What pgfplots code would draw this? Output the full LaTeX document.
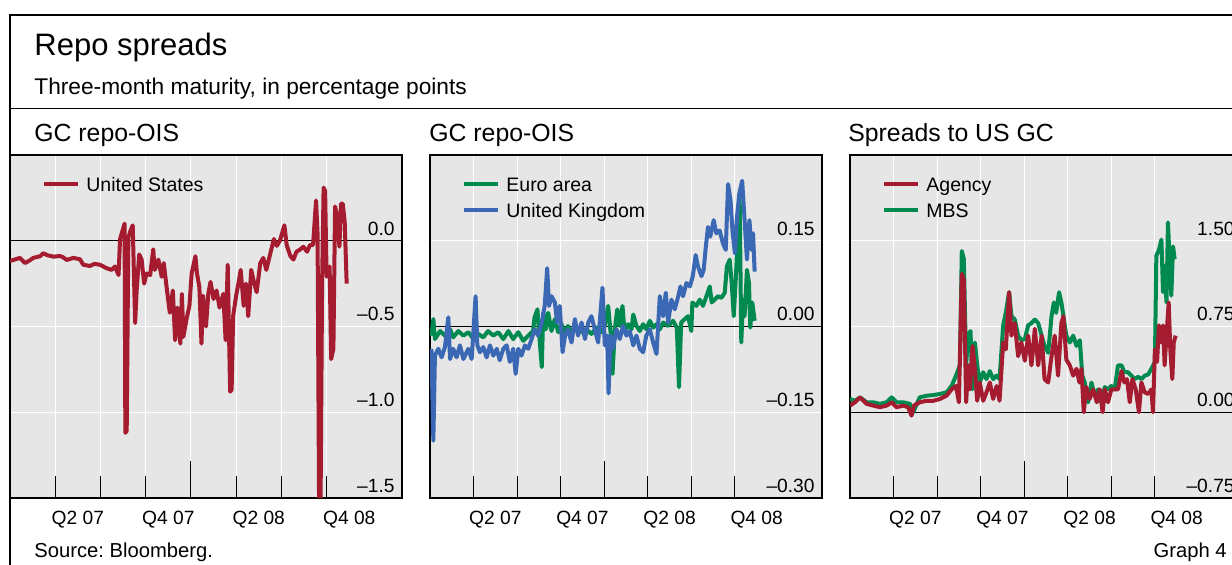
\documentclass[border=0pt]{standalone}
\usepackage{fontspec}
\setmainfont{Liberation Sans}
\usepackage{pgfplots}
\pgfplotsset{compat=1.18}
\definecolor{bisred}{HTML}{A51C30}
\definecolor{bisgreen}{HTML}{008A50}
\definecolor{bisblue}{HTML}{3A68B4}
\definecolor{bggray}{HTML}{E6E6E6}
\frenchspacing

\pgfplotsset{
  panel/.style={
    scale only axis, width=196pt, height=171.5pt, anchor=south west,
    axis background/.style={fill=bggray},
    axis line style={black, line width=0.75pt},
    xmin=0,
    xtick={4.5,10.5,16.5,22.5},
    xticklabels={Q2 07,Q4 07,Q2 08,Q4 08},
    minor xtick={3,6,...,21},
    xminorgrids=true, ymajorgrids=true,
    minor grid style={white, line width=0.5pt},
    major grid style={white, line width=0.5pt},
    major tick length=0pt, minor tick length=11pt,
    tick align=inside, xtick pos=left,
    minor tick style={black, line width=0.5pt},
    yticklabel pos=right,
    ticklabel style={font=\fontsize{9.6}{11}\selectfont},
    yticklabel style={anchor=base east, inner sep=0pt, xshift=-3.5pt, yshift=2.75pt},
    xticklabel style={anchor=base, inner sep=0pt, yshift=-13.2pt},
    legend style={at={(0,1)}, anchor=north west, xshift=16pt, yshift=-10.85pt,
      draw=none, fill=none, inner sep=0pt, row sep=4pt, column sep=3pt,
      font=\fontsize{9.75}{11}\selectfont,
      nodes={inner sep=0pt, text height=7pt, text depth=2pt, anchor=base west}},
    legend cell align=left,
    legend image code/.code={\draw[##1, line width=2pt] (0pt,3.4pt) -- (17pt,3.4pt);},
    every axis plot/.append style={line width=2pt, line join=round},
  }
}

\begin{document}
\begin{tikzpicture}
\useasboundingbox (0,0) rectangle (616pt,282.5pt);
\clip (0,0) rectangle (616pt,282.5pt);

% frame and header
\draw[black, line width=0.75pt] (5pt,0) -- (5pt,275pt) -- (620pt,275pt);
\draw[black, line width=0.75pt] (5pt,228.25pt) -- (620pt,228.25pt);
\node[anchor=base west, inner sep=0pt, font=\fontsize{15.5}{17}\selectfont] at (17pt,254.5pt) {Repo spreads};
\node[anchor=base west, inner sep=0pt, font=\fontsize{11.35}{13}\selectfont] at (17pt,235pt) {Three-month maturity, in percentage points};
\node[anchor=base west, inner sep=0pt, font=\fontsize{12.4}{14}\selectfont] at (17pt,211.5pt) {GC repo-OIS};
\node[anchor=base west, inner sep=0pt, font=\fontsize{12.4}{14}\selectfont] at (214.5pt,211.5pt) {GC repo-OIS};
\node[anchor=base west, inner sep=0pt, font=\fontsize{12.4}{14}\selectfont] at (424pt,211.5pt) {Spreads to US GC};
\node[anchor=base west, inner sep=0pt, font=\fontsize{10.1}{12}\selectfont] at (17pt,3.5pt) {Source: Bloomberg.};
\node[anchor=base east, inner sep=0pt, font=\fontsize{10.1}{12}\selectfont] at (613.5pt,3.5pt) {Graph 4};

% panel 1: US
\begin{axis}[panel, at={(5pt,33.5pt)}, xmax=26,
  ymin=-1.5, ymax=0.5, ytick={-1.5,-1,-0.5,0},
  yticklabels={–1.5,–1.0,–0.5,0.0}]
\draw[black, line width=0.6pt] (axis cs:0,0) -- (axis cs:26,0);
\draw[black, line width=0.5pt] (axis cs:12,-1.5) -- ++(0pt,18.5pt);
\addplot[bisred] coordinates {
(0,-0.118) (0.3,-0.11) (0.66,-0.10) (1.0,-0.13) (1.3,-0.115) (1.55,-0.10) (2.0,-0.09) (2.2,-0.073)
(2.5,-0.085) (2.9,-0.093) (3.3,-0.089) (3.5,-0.095) (3.76,-0.112) (4.2,-0.10) (4.64,-0.108)
(4.86,-0.14) (5.3,-0.147) (5.6,-0.135) (5.97,-0.14) (6.4,-0.16) (6.74,-0.17) (6.96,-0.15)
(7.2,-0.2) (7.3,0.01) (7.5,0.07) (7.6,0.10) (7.65,-1.12) (7.74,-1.11) (7.85,0.02) (8.0,0.06)
(8.14,0.09) (8.3,-0.48) (8.4,-0.29) (8.57,-0.08) (8.73,-0.11) (8.9,-0.25) (9.06,-0.19)
(9.3,-0.2) (9.5,-0.05) (9.6,-0.17) (9.84,-0.11) (10.06,-0.21) (10.2,-0.13) (10.4,-0.28)
(10.6,-0.42) (10.8,-0.29) (10.95,-0.58) (11.1,-0.39) (11.3,-0.6) (11.4,-0.31) (11.5,-0.56)
(11.7,-0.46) (11.9,-0.38) (12.05,-0.19) (12.3,-0.09) (12.4,-0.19) (12.56,-0.27) (12.7,-0.6)
(12.8,-0.32) (13.0,-0.5) (13.15,-0.31) (13.3,-0.24) (13.5,-0.34) (13.7,-0.29) (13.9,-0.39)
(14.15,-0.31) (14.3,-0.58) (14.44,-0.14) (14.6,-0.88) (14.7,-0.87) (14.8,-0.44) (15.0,-0.32)
(15.15,-0.25) (15.3,-0.17) (15.5,-0.38) (15.65,-0.25) (15.8,-0.44) (16.0,-0.17) (16.15,-0.23)
(16.36,-0.30) (16.6,-0.13) (16.8,-0.10) (17.0,-0.17) (17.25,-0.08) (17.5,0.01) (17.7,-0.03)
(17.9,0.0) (18.2,0.09) (18.35,-0.025) (18.6,-0.09) (18.8,-0.11) (19.0,-0.064) (19.2,-0.054)
(19.46,-0.035) (19.7,-0.064) (19.9,-0.025) (20.1,-0.025) (20.3,0.235) (20.4,0.04) (20.5,-1.55)
(20.6,-1.52) (20.7,-0.25) (20.8,0.31) (20.9,0.29) (21.0,-0.21) (21.2,-0.15) (21.3,-0.69)
(21.45,-0.63) (21.56,0.20) (21.7,0.14) (21.85,-0.035) (21.95,0.216) (22.07,0.216) (22.2,0.11)
(22.33,-0.25)
};
\addlegendentry{United States}
\end{axis}

% panel 2: euro area and UK
\begin{axis}[panel, at={(215pt,33.5pt)}, xmax=27,
  ymin=-0.3, ymax=0.3, ytick={-0.3,-0.15,0,0.15},
  yticklabels={–0.30,–0.15,0.00,0.15}]
\draw[black, line width=0.6pt] (axis cs:0,0) -- (axis cs:27,0);
\draw[black, line width=0.5pt] (axis cs:12,-0.3) -- ++(0pt,18.5pt);
\addplot[bisgreen] coordinates {
(0.1,-0.016) (0.23,0.013) (0.34,-0.022) (0.7,-0.008) (1.03,-0.016) (1.38,-0.005) (1.6,-0.019)
(1.95,-0.008) (2.3,-0.016) (2.64,-0.01) (3.0,-0.022) (3.33,-0.013) (3.67,-0.019) (4.0,-0.008)
(4.36,-0.016) (4.7,-0.01) (5.05,-0.022) (5.4,-0.008) (5.73,-0.022) (6.08,-0.01) (6.42,-0.025)
(6.77,-0.016) (7.1,-0.008) (7.2,0.016) (7.4,0.03) (7.5,-0.008) (7.7,-0.071) (7.8,0.024)
(7.98,-0.005) (8.14,0.024) (8.37,-0.008) (8.6,0.013) (8.83,-0.01) (9.06,0.004) (9.3,-0.013)
(9.5,0.001) (9.75,-0.01) (10.1,-0.002) (10.44,-0.01) (10.78,-0.005) (11.12,-0.013)
(11.47,-0.002) (11.8,-0.01) (12.04,0.001) (12.27,0.036) (12.43,-0.008) (12.57,-0.083)
(12.73,-0.005) (12.9,0.03) (13.07,0.001) (13.26,0.036) (13.4,-0.01) (13.65,0.004)
(13.88,-0.005) (14.0,0.021) (14.22,0.001) (14.45,-0.008) (14.68,0.004) (14.9,-0.005)
(15.14,0.01) (15.37,-0.002) (15.6,0.004) (15.83,-0.005) (16.06,0.007) (16.4,0.001)
(16.74,0.01) (17.0,-0.002) (17.15,-0.106) (17.3,0.007) (17.55,0.013) (17.77,0.018)
(18.0,-0.008) (18.07,0.042) (18.35,0.036) (18.58,0.047) (18.8,0.036) (19.04,0.053)
(19.27,0.07) (19.4,0.042) (19.6,0.047) (19.84,0.053) (20.07,0.05) (20.3,0.059) (20.45,0.105)
(20.64,0.117) (20.78,0.076) (20.92,0.018) (21.06,0.082) (21.2,0.163) (21.33,0.223)
(21.44,-0.028) (21.56,0.047) (21.67,0.018) (21.83,0.099) (21.97,0.076) (22.06,-0.002)
(22.2,0.042) (22.36,0.01)
};
\addlegendentry{Euro area}
\addplot[bisblue] coordinates {
(0.1,-0.039) (0.23,-0.20) (0.34,-0.051) (0.57,-0.039) (0.8,-0.054) (1.03,-0.036) (1.26,0.016)
(1.38,-0.057) (1.6,-0.039) (1.83,-0.054) (2.06,-0.033) (2.3,-0.057) (2.64,-0.039) (2.87,-0.057)
(3.14,0.053) (3.26,-0.033) (3.44,-0.045) (3.67,-0.036) (3.9,-0.054) (4.13,-0.033) (4.36,-0.051)
(4.6,-0.039) (4.8,-0.059) (5.05,-0.039) (5.28,-0.033) (5.5,-0.062) (5.73,-0.039) (5.9,-0.083)
(6.08,-0.039) (6.3,-0.051) (6.54,-0.033) (6.77,-0.039) (7.0,-0.022) (7.2,-0.005) (7.45,-0.016)
(7.7,0.007) (7.9,0.036) (8.07,0.102) (8.2,0.036) (8.37,0.053) (8.6,0.042) (8.76,0.007)
(8.94,0.036) (9.13,-0.045) (9.3,-0.016) (9.5,-0.005) (9.75,-0.028) (9.98,0.013) (10.2,-0.016)
(10.44,0.007) (10.67,-0.022) (10.9,0.007) (11.12,0.018) (11.35,-0.005) (11.58,-0.028)
(11.88,0.068) (12.04,-0.033) (12.2,-0.016) (12.3,-0.117) (12.43,-0.016) (12.6,-0.039)
(12.84,-0.005) (13.07,-0.022) (13.3,0.001) (13.53,-0.016) (13.76,-0.008) (14.0,-0.033)
(14.22,-0.016) (14.45,-0.039) (14.68,-0.045) (14.9,-0.016) (15.14,-0.005) (15.37,-0.028)
(15.6,-0.048) (15.83,0.053) (16.06,0.018) (16.24,0.059) (16.4,0.007) (16.63,0.047)
(16.86,0.03) (17.1,0.053) (17.25,0.07) (17.43,0.053) (17.66,0.076) (17.9,0.07) (18.1,0.088)
(18.3,0.125) (18.46,0.105) (18.7,0.088) (18.85,0.099) (19.0,0.14) (19.15,0.174) (19.3,0.157)
(19.54,0.186) (19.72,0.163) (19.95,0.168) (20.18,0.145) (20.37,0.134) (20.53,0.249)
(20.7,0.22) (20.83,0.168) (21.0,0.128) (21.14,0.19) (21.3,0.232) (21.5,0.255) (21.67,0.186)
(21.83,0.117) (22.0,0.186) (22.15,0.134) (22.25,0.163) (22.36,0.096)
};
\addlegendentry{United Kingdom}
\end{axis}

% panel 3: spreads to US GC
\begin{axis}[panel, at={(425pt,33.5pt)}, xmax=27, reverse legend,
  ymin=-0.75, ymax=2.25, ytick={-0.75,0,0.75,1.5},
  yticklabels={–0.75,0.00,0.75,1.50}]
\draw[black, line width=0.6pt] (axis cs:0,0) -- (axis cs:27,0);
\draw[black, line width=0.5pt] (axis cs:12,-0.75) -- ++(0pt,18.5pt);
\addplot[bisgreen] coordinates {
(0,0.116) (0.34,0.10) (0.69,0.13) (1.15,0.087) (1.6,0.087) (2.06,0.073) (2.52,0.087)
(2.87,0.13) (3.2,0.087) (3.67,0.087) (4.13,0.073) (4.36,0.0) (4.6,0.073) (4.8,0.13)
(5.28,0.145) (5.73,0.15) (6.2,0.16) (6.65,0.174) (7.0,0.23) (7.3,0.32) (7.57,0.41) (7.7,1.41)
(7.84,1.34) (8.0,0.41) (8.14,0.68) (8.3,0.71) (8.44,0.2) (8.6,0.61) (8.76,0.41) (8.94,0.26)
(9.17,0.35) (9.4,0.29) (9.63,0.36) (9.86,0.29) (10.1,0.32) (10.3,0.29) (10.55,0.76)
(10.73,0.87) (10.96,1.05) (11.12,0.84) (11.35,0.81) (11.58,0.67) (11.8,0.63) (12.04,0.64)
(12.27,0.76) (12.5,0.78) (12.73,0.81) (12.96,0.78) (13.2,0.67) (13.4,0.58) (13.65,0.52)
(13.88,0.84) (14.04,0.96) (14.2,0.87) (14.4,1.05) (14.56,0.96) (14.7,0.84) (14.9,0.67)
(15.14,0.61) (15.37,0.67) (15.6,0.58) (15.83,0.63) (16.0,0.32) (16.17,0.26) (16.4,0.087)
(16.63,0.26) (16.86,0.145) (17.1,0.2) (17.3,0.087) (17.55,0.22) (17.77,0.2) (18.0,0.23)
(18.23,0.2) (18.46,0.41) (18.7,0.41) (18.9,0.35) (19.15,0.35) (19.38,0.32) (19.6,0.29)
(19.84,0.31) (20.07,0.29) (20.3,0.32) (20.53,0.33) (20.76,0.38) (21.0,0.44) (21.1,1.37)
(21.28,1.42) (21.45,1.51) (21.56,1.05) (21.67,1.28) (21.8,0.96) (21.9,1.66) (22.0,1.37)
(22.13,1.02) (22.25,1.45) (22.36,1.34)
};
\addlegendentry{MBS}
\addplot[bisred] coordinates {
(0,0.058) (0.34,0.087) (0.69,0.13) (1.15,0.073) (1.6,0.058) (2.06,0.044) (2.52,0.058)
(2.87,0.087) (3.2,0.044) (3.67,0.058) (4.0,0.044) (4.24,-0.03) (4.4,0.058) (4.8,0.087)
(5.28,0.10) (5.73,0.10) (6.2,0.116) (6.65,0.145) (7.0,0.2) (7.3,0.23) (7.5,0.087) (7.7,1.21)
(7.84,1.16) (8.0,0.087) (8.14,0.41) (8.26,0.2) (8.44,0.58) (8.6,0.38) (8.76,0.10) (8.94,0.26)
(9.17,0.10) (9.4,0.174) (9.63,0.26) (9.86,0.116) (10.1,0.23) (10.3,0.10) (10.55,0.61)
(10.73,0.55) (10.96,1.05) (11.12,0.67) (11.35,0.78) (11.58,0.49) (11.8,0.61) (12.04,0.45)
(12.27,0.67) (12.5,0.41) (12.73,0.73) (12.96,0.41) (13.2,0.67) (13.4,0.29) (13.65,0.26)
(13.88,0.49) (14.1,0.67) (14.33,0.32) (14.56,0.78) (14.7,0.84) (14.9,0.46) (15.14,0.41)
(15.37,0.32) (15.6,0.38) (15.8,0.26) (15.94,0.38) (16.1,0.0) (16.28,0.22) (16.5,0.116)
(16.74,0.2) (17.0,0.087) (17.2,0.2) (17.4,0.0) (17.55,0.2) (17.77,0.087) (18.0,0.2)
(18.23,0.2) (18.46,0.2) (18.7,0.36) (18.9,0.26) (19.08,0.29) (19.27,0.087) (19.45,0.29)
(19.68,0.2) (19.9,0.0) (20.07,0.26) (20.3,0.174) (20.53,0.16) (20.76,0.2) (20.87,0.0)
(21.0,0.55) (21.15,0.44) (21.28,0.76) (21.45,0.61) (21.56,0.76) (21.67,0.41) (21.8,0.67)
(21.95,0.96) (22.06,0.55) (22.2,0.29) (22.3,0.61) (22.43,0.67)
};
\addlegendentry{Agency}
\end{axis}
\end{tikzpicture}
\end{document}
